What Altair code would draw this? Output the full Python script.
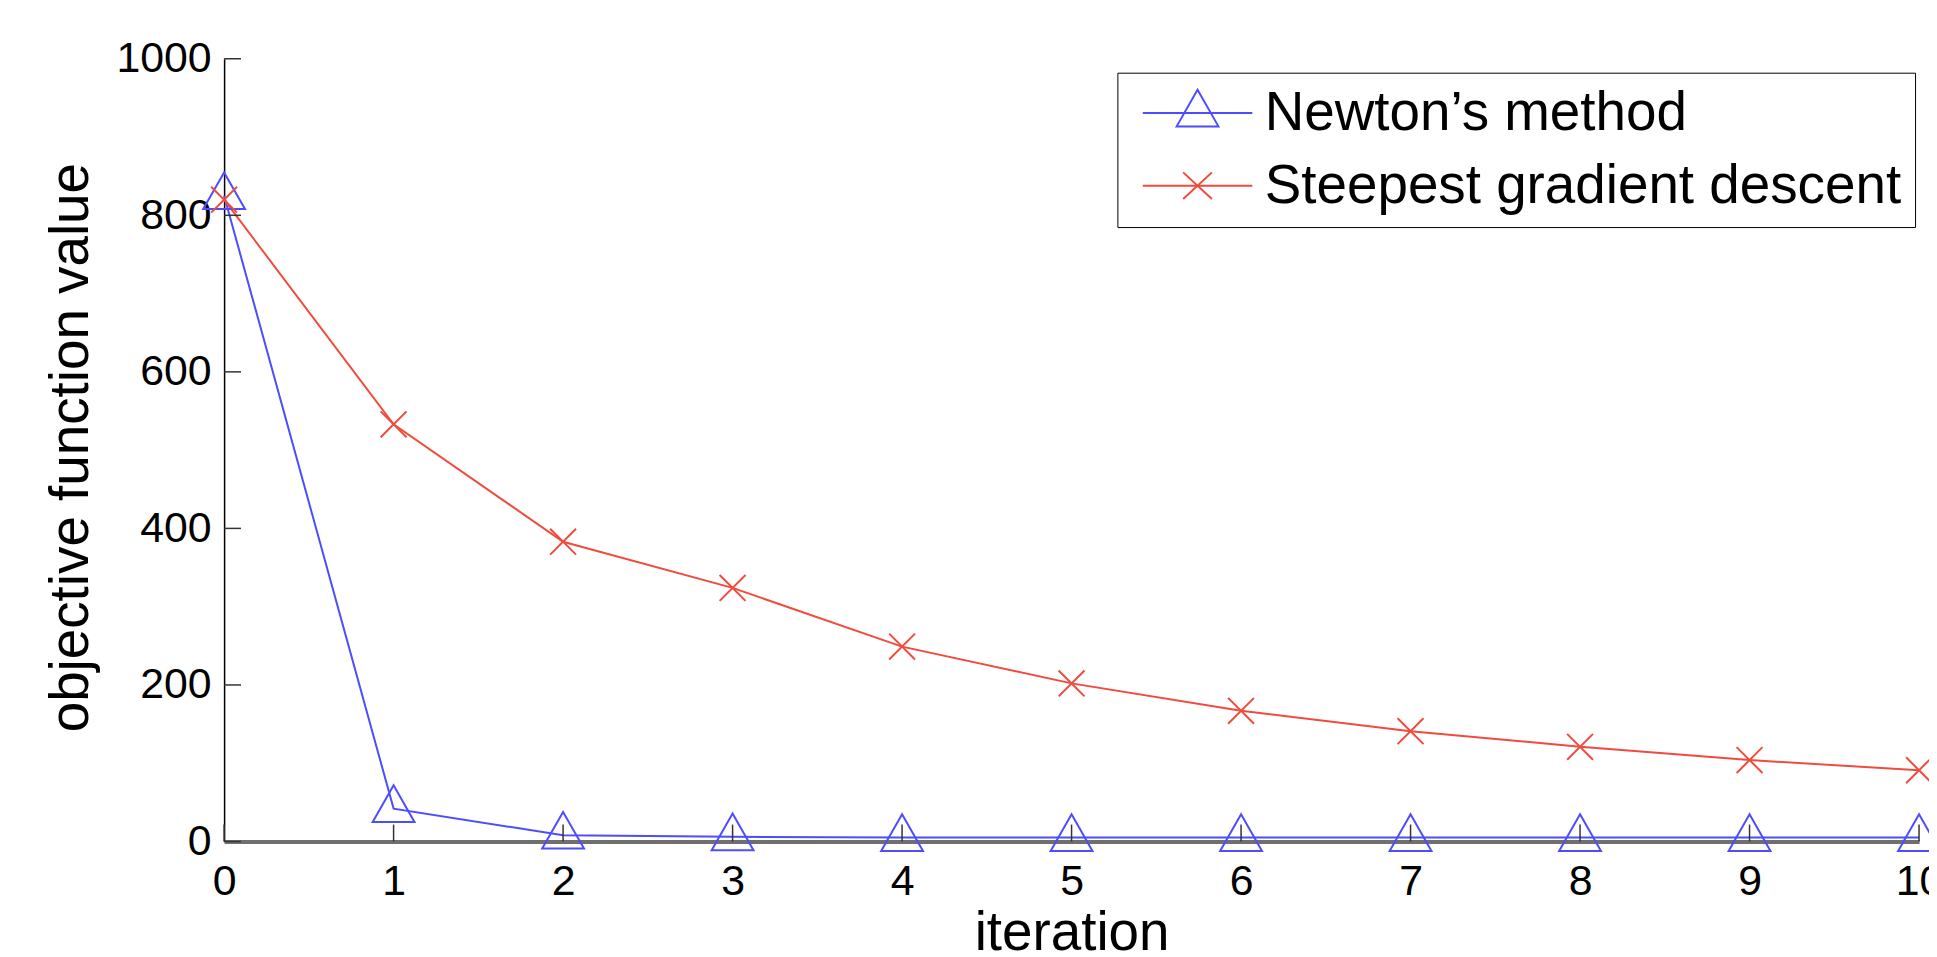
import altair as alt
import pandas as pd

# ---- data ----
ITERATIONS = [0, 1, 2, 3, 4, 5, 6, 7, 8, 9, 10]
NEWTON = [825, 42, 8, 6, 5, 5, 5, 5, 5, 5, 5]
STEEPEST = [820, 533, 383, 324, 249, 202, 167, 141, 121, 104, 91]
SERIES = ["Newton’s method", "Steepest gradient descent"]
X_TICKS = [0, 1, 2, 3, 4, 5, 6, 7, 8, 9, 10]
Y_TICKS = [0, 200, 400, 600, 800, 1000]

# ---- styles ----
COLORS = ["#4d4dff", "#f04b3c"]
FONT = "Liberation Sans"
W, H = 1702, 786
TRI = "M0,-1.17L1.05,0.67L-1.05,0.67Z"
CROSS = "M-0.65,-0.65L0.65,0.65M-0.65,0.65L0.65,-0.65"
TRI_LEG = "M-2.75,0L2.75,0M0,-1.17L1.05,0.67L-1.05,0.67Z"
CROSS_LEG = "M-2.75,0L2.75,0M-0.72,-0.67L0.72,0.67M-0.72,0.67L0.72,-0.67"

df = pd.DataFrame({
    "iteration": ITERATIONS + ITERATIONS,
    "value": NEWTON + STEEPEST,
    "method": [SERIES[0]] * len(NEWTON) + [SERIES[1]] * len(STEEPEST),
})
xt_df = pd.DataFrame({"iteration": X_TICKS})
yt_df = pd.DataFrame({"value": Y_TICKS})

x_enc = alt.X(
    "iteration:Q",
    scale=alt.Scale(domain=[0, 10], nice=False, zero=False),
    axis=alt.Axis(
        title="iteration", values=X_TICKS, format="d", grid=False, ticks=False,
        domainColor="#6f6f6f", domainWidth=4,
        labelFont=FONT, labelFontSize=43, labelColor="black", labelPadding=19,
        labelFlush=False, labelOverlap=False,
        titleFont=FONT, titleFontSize=55, titleFontWeight="normal", titleColor="black",
        titleX=W / 2, titleY=108, titleBaseline="alphabetic", titleAlign="center",
    ),
)
y_enc = alt.Y(
    "value:Q",
    scale=alt.Scale(domain=[0, 1000], nice=False),
    axis=alt.Axis(
        title="objective function value", values=Y_TICKS, format="d", grid=False, ticks=False,
        domainColor="black", domainWidth=1.5,
        labelFont=FONT, labelFontSize=43, labelColor="black", labelPadding=13,
        labelFlush=False, labelOverlap=False,
        titleFont=FONT, titleFontSize=55, titleFontWeight="normal", titleColor="black",
        titleX=-137, titleY=390, titleBaseline="alphabetic", titleAlign="center", titleAngle=270,
    ),
)
color_enc = alt.Color("method:N", scale=alt.Scale(domain=SERIES, range=COLORS), title=None)
shape_enc = alt.Shape("method:N", scale=alt.Scale(domain=SERIES, range=[TRI_LEG, CROSS_LEG]), title=None)

base = alt.Chart(df)

legend_layer = base.transform_filter("false").mark_point(
    filled=False, opacity=1, size=1600, strokeWidth=2
).encode(x=x_enc, y=y_enc, color=color_enc, shape=shape_enc)

lines = base.mark_line(strokeWidth=2, opacity=1).encode(x=x_enc, y=y_enc, color=color_enc)

tri = base.transform_filter(alt.datum.method == SERIES[0]).mark_point(
    shape=TRI, filled=False, size=1600, strokeWidth=2, opacity=1
).encode(x=x_enc, y=y_enc, color=color_enc)

cross = base.transform_filter(alt.datum.method == SERIES[1]).mark_point(
    shape=CROSS, filled=False, size=1600, strokeWidth=2, opacity=1
).encode(x=x_enc, y=y_enc, color=color_enc)

xticks = alt.Chart(xt_df).mark_tick(
    color="#333333", thickness=1.5, size=17, orient="vertical", opacity=1
).encode(x=x_enc, y=alt.value(H - 8.5))

yticks = alt.Chart(yt_df).mark_tick(
    color="#333333", thickness=1.5, size=17, orient="horizontal", opacity=1
).encode(y=y_enc, x=alt.value(8.5))

chart = alt.layer(legend_layer, lines, tri, cross, xticks, yticks).properties(
    width=W, height=H,
    padding={"left": 217, "top": 49, "right": 10, "bottom": 113},
    autosize=alt.AutoSizeParams(type="none"),
    background="white",
).configure_view(stroke=None).configure_legend(
    orient="none", legendX=897, legendY=14, direction="vertical",
    padding=13, strokeColor="black", fillColor="white", cornerRadius=0,
    labelFont=FONT, labelFontSize=55, labelColor="black", labelLimit=2000,
    labelOffset=40, symbolOffset=40, symbolSize=1600, symbolStrokeWidth=2,
    rowPadding=17,
)

chart.save("out.html", embed_options={"renderer": "svg", "actions": False})
